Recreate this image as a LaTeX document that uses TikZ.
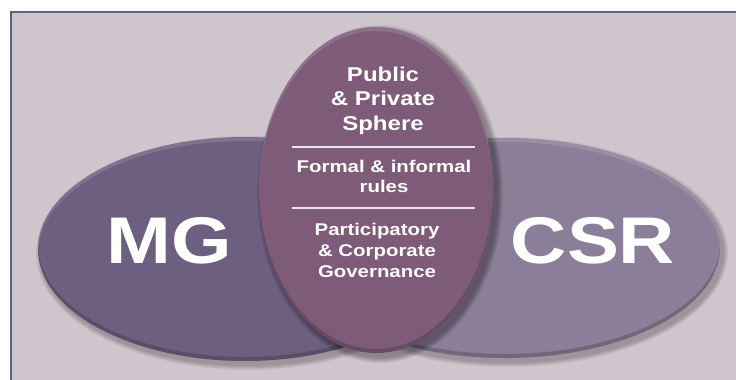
\documentclass[tikz,border=0pt]{standalone}
\usepackage{fontspec}
\setmainfont{Liberation Sans}
\usetikzlibrary{shapes.geometric}

\definecolor{bgmauve}{HTML}{CFC5CC}
\definecolor{framegray}{HTML}{56667E}
\definecolor{mgpurple}{HTML}{6D5F80}
\definecolor{csrpurple}{HTML}{8B7E98}
\definecolor{midplum}{HTML}{7E5B79}

\tikzset{
  blob/.style={ellipse, inner sep=0pt, draw=none},
  bigtag/.style={text=white, inner sep=0pt, xscale=1.18,
    font=\bfseries\fontsize{66}{66}\selectfont},
  midtext/.style={text=white, inner sep=0pt, xscale=1.2, align=center, anchor=north},
  rulesep/.style={white!85!midplum, line width=1.4pt}
}

% bevel: light crescent on top, dark crescent at the bottom
\newcommand{\bevel}[4]{%
  \begin{scope}
    \clip (#1,#2) ellipse (#3 and #4);
    \fill[white, opacity=0.13, even odd rule]
      (#1,#2) ellipse (#3 and #4) (#1,#2+4) ellipse (#3 and #4);
    \fill[black, opacity=0.18, even odd rule]
      (#1,#2) ellipse (#3 and #4) (#1,#2-4) ellipse (#3 and #4);
  \end{scope}}

\begin{document}
\begin{tikzpicture}[x=1pt, y=-1pt]
  \useasboundingbox (0,0) rectangle (736,380);
  \clip (0,0) rectangle (736,380);

  % frame and background
  \fill[white] (0,0) rectangle (736,380);
  \fill[bgmauve] (11,12) rectangle (740,384);
  \draw[framegray, line width=1.6pt] (11,384) -- (11,12) -- (740,12);

  % side ellipses
  \foreach \k in {1,...,5}{
    \fill[black, opacity=0.05] (248,253) ellipse ({207+\k} and {112+\k});
  }
  \node[blob, fill=mgpurple, minimum width=414pt, minimum height=224pt] (mg) at (245,249) {};
  \bevel{245}{249}{207}{112}
  \foreach \k in {1,...,5}{
    \fill[black, opacity=0.05] (508,252) ellipse ({215+\k} and {110+\k});
  }
  \node[blob, fill=csrpurple, minimum width=430pt, minimum height=220pt] (csr) at (505,248) {};
  \bevel{505}{248}{215}{110}

  % middle ellipse
  \foreach \k in {1,...,6}{
    \fill[black, opacity=0.06] (380,194) ellipse ({117+\k} and {163+\k});
  }
  \node[blob, fill=midplum, minimum width=234pt, minimum height=326pt] (sphere) at (376,190) {};
  \bevel{376}{190}{117}{163}

  % big labels
  \node[bigtag] (mglabel) at (169,241) {MG};
  \node[bigtag] (csrlabel) at (593,241) {CSR};

  % texts in the middle ellipse
  \node[midtext, font=\bfseries\fontsize{20}{24.5}\selectfont] (spheretxt) at (383,66.5)
    {Public\\\& Private\\Sphere};
  \draw[rulesep] (292,147) -- (475,147);
  \node[midtext, font=\bfseries\fontsize{17}{20}\selectfont] (rulestxt) at (384,160)
    {Formal \& informal\\rules};
  \draw[rulesep] (292,208) -- (475,208);
  \node[midtext, font=\bfseries\fontsize{17}{21}\selectfont] (govtxt) at (377,223)
    {Participatory\\\& Corporate\\Governance};
\end{tikzpicture}
\end{document}
